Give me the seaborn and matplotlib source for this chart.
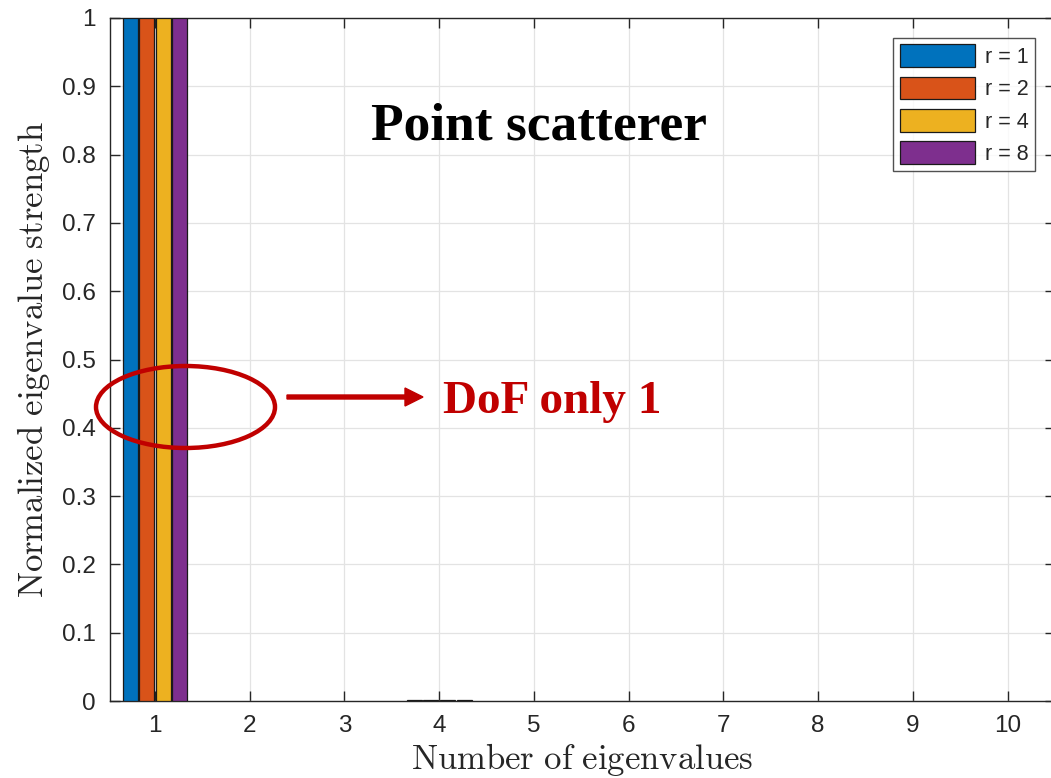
import numpy as np
import pandas as pd
import seaborn as sns
import matplotlib.pyplot as plt
from matplotlib.patches import Ellipse, FancyArrow

# ---- data ----
eig_index = [1, 2, 3, 4, 5, 6, 7, 8, 9, 10]
r_labels = ["r = 1", "r = 2", "r = 4", "r = 8"]
strength_r1 = [1.0, 0, 0, 0.002, 0, 0, 0, 0, 0, 0]
strength_r2 = [1.0, 0, 0, 0.002, 0, 0, 0, 0, 0, 0]
strength_r4 = [1.0, 0, 0, 0.002, 0, 0, 0, 0, 0, 0]
strength_r8 = [1.0, 0, 0, 0.002, 0, 0, 0, 0, 0, 0]
y_ticks = [0, 0.1, 0.2, 0.3, 0.4, 0.5, 0.6, 0.7, 0.8, 0.9, 1]
y_ticklabels = ["0", "0.1", "0.2", "0.3", "0.4", "0.5", "0.6", "0.7", "0.8", "0.9", "1"]
colors = ["#0072BD", "#D95319", "#EDB120", "#7E2F8E"]

rows = []
for lab, vals in zip(r_labels, [strength_r1, strength_r2, strength_r4, strength_r8]):
    for x, v in zip(eig_index, vals):
        rows.append({"eig": x, "val": v, "r": lab})
df = pd.DataFrame(rows)

sns.set_theme(style="ticks")
plt.rcParams["font.family"] = ["Liberation Sans", "DejaVu Sans"]
plt.rcParams["mathtext.fontset"] = "cm"

W, H = 1051, 778
fig = plt.figure(figsize=(W / 100, H / 100), dpi=100)
ax_left, ax_right, ax_top, ax_bot = 110, 1055, 18, 701
ax = fig.add_axes([ax_left / W, 1 - ax_bot / H, (ax_right - ax_left) / W, (ax_bot - ax_top) / H])

sns.barplot(data=df, x="eig", y="val", hue="r", native_scale=True, palette=colors,
            saturation=1, width=0.7, gap=0.1, edgecolor="#1a1a1a", linewidth=0.9,
            errorbar=None, ax=ax, zorder=3)

# zero-height bars leave no visible mark
for p in ax.patches:
    if abs(p.get_height()) < 1e-12:
        p.set_linewidth(0)

ax.set_xlim(0.525, 10.5)
ax.set_ylim(0, 1)
ax.set_xticks(eig_index)
ax.set_xticklabels([str(v) for v in eig_index])
ax.set_yticks(y_ticks)
ax.set_yticklabels(y_ticklabels)
ax.grid(True, color="#e3e3e3", lw=0.9, zorder=0)
ax.set_axisbelow(True)
for s in ax.spines.values():
    s.set_visible(True)
    s.set_color("#262626")
    s.set_linewidth(1.0)
ax.tick_params(direction="in", length=7, width=1, colors="#262626", labelsize=17.5,
               pad=10, top=True, right=True)

ax.set_xlabel(r"$\mathrm{Number\ of\ eigenvalues}$", fontsize=25, color="#262626")
ax.set_ylabel(r"$\mathrm{Normalized\ eigenvalue\ strength}$", fontsize=25, color="#262626")
ax.xaxis.set_label_coords(0.5, -(741 - ax_bot) / (ax_bot - ax_top))
ax.yaxis.set_label_coords((52 - ax_left) / (ax_right - ax_left), 0.5)

handles, labels = ax.get_legend_handles_labels()
if ax.get_legend() is not None:
    ax.get_legend().remove()
leg = fig.legend(handles, labels, loc="upper right",
                 bbox_to_anchor=(1035 / W, 1 - 38 / H), fontsize=15.5,
                 frameon=True, fancybox=False, edgecolor="#262626",
                 handlelength=3.5, handleheight=1.25, labelspacing=0.4,
                 handletextpad=0.45, borderpad=0.3, borderaxespad=0)
leg.get_frame().set_linewidth(1.0)
for h in leg.legend_handles:
    h.set_edgecolor("#1a1a1a")
    h.set_linewidth(0.9)

def fx(px):
    return px / W

def fy(py):
    return 1 - py / H

fig.text(fx(539), fy(127), "Point scatterer", fontsize=38.5, fontweight="bold",
         family=["Liberation Serif", "DejaVu Serif"], color="black",
         ha="center", va="center")
fig.text(fx(443), fy(413), "DoF only 1", fontsize=34, fontweight="bold",
         family=["Liberation Serif", "DejaVu Serif"], color="#C00000",
         ha="left", va="baseline")

ell = Ellipse((fx(185.5), fy(407)), width=179 / W, height=82 / H,
              transform=fig.transFigure, fill=False, edgecolor="#C00000", lw=3.2, zorder=10)
fig.add_artist(ell)
arr = FancyArrow(fx(287), fy(397), (423 - 287) / W, 0, width=4 / H,
                 head_width=18 / H, head_length=18 / W, length_includes_head=True,
                 transform=fig.transFigure, color="#C00000", zorder=10)
fig.add_artist(arr)

fig.savefig("out.png", dpi=100)
